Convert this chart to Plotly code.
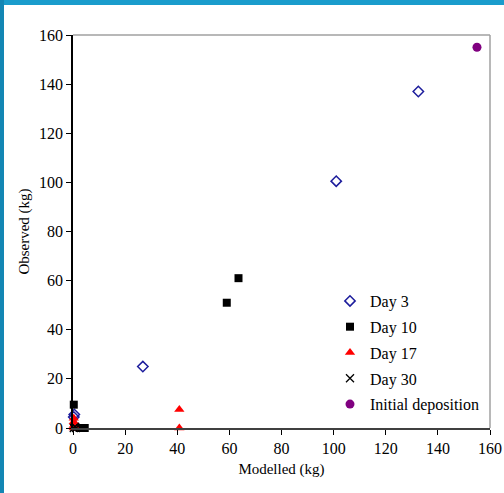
import plotly.graph_objects as go

day3_x = [26.8, 101, 132.5, 0.5, 0.3]
day3_y = [25, 100.5, 137, 5.5, 4.5]
day10_x = [59, 63.5, 0.3, 2.5, 4.5, 0.5]
day10_y = [51, 61, 9.5, 0, 0, 0.5]
day17_x = [40.8, 40.8, 0.3, 0.3, 0.3, 0.3]
day17_y = [7.5, 0, 4, 2.5, 1, 0]
day30_x = [0.3, 1.2, 0.8]
day30_y = [0, 0, 0.5]
init_x = [155]
init_y = [155]

x_ticks = [0, 20, 40, 60, 80, 100, 120, 140, 160]
y_ticks = [0, 20, 40, 60, 80, 100, 120, 140, 160]

W, H = 504, 493
L, R, T, B = 73, 14, 35, 65
pw, ph = W - L - R, H - T - B

def px2x(p):
    return (p - L) / pw

def py2y(p):
    return (H - B - p) / ph

font = "Liberation Serif"

fig = go.Figure()
fig.add_trace(go.Scatter(x=day3_x, y=day3_y, mode="markers", name="Day 3", legendgroup="a",
                         marker=dict(symbol="diamond-open", size=8, color="#1c1c9c",
                                     line=dict(width=1.5, color="#1c1c9c"))))
fig.add_trace(go.Scatter(x=day10_x, y=day10_y, mode="markers", name="Day 10", legendgroup="b",
                         marker=dict(symbol="square", size=8, color="black")))
fig.add_trace(go.Scatter(x=day17_x, y=day17_y, mode="markers", name="Day 17", legendgroup="c",
                         marker=dict(symbol="triangle-up", size=9, color="#ff0000")))
fig.add_trace(go.Scatter(x=day30_x, y=day30_y, mode="markers", name="Day 30", legendgroup="d",
                         marker=dict(symbol="x-thin-open", size=8, color="black",
                                     line=dict(width=1.3, color="black"))))
fig.add_trace(go.Scatter(x=init_x, y=init_y, mode="markers", name="Initial deposition", legendgroup="e",
                         marker=dict(symbol="circle", size=9, color="#800080")))

shapes = [
    dict(type="line", xref="paper", yref="paper", x0=0, x1=1, y0=1, y1=1,
         line=dict(color="#a0a0a0", width=1.5)),
    dict(type="line", xref="paper", yref="paper", x0=1, x1=1, y0=0, y1=1,
         line=dict(color="#a0a0a0", width=1.5)),
    dict(type="rect", xref="paper", yref="paper", x0=px2x(0), x1=px2x(W), y0=py2y(5), y1=py2y(0),
         fillcolor="#1a9ccc", line=dict(width=0), layer="above"),
    dict(type="rect", xref="paper", yref="paper", x0=px2x(0), x1=px2x(4), y0=py2y(H), y1=py2y(0),
         fillcolor="#1386b4", line=dict(width=0), layer="above"),
]

fig.update_layout(
    width=W, height=H,
    margin=dict(l=L, r=R, t=T, b=B, autoexpand=False),
    paper_bgcolor="white", plot_bgcolor="white",
    showlegend=True,
    legend=dict(x=px2x(330), y=py2y(284), xanchor="left", yanchor="top",
                bgcolor="rgba(0,0,0,0)", font=dict(family=font, size=16, color="#000000"),
                tracegroupgap=2, itemwidth=30),
    xaxis=dict(range=[0, 160], tickvals=x_ticks, ticks="outside", ticklen=5,
               showgrid=False, zeroline=False, showline=True, linecolor="#404040",
               linewidth=1.5, tickcolor="black", automargin=False,
               title=dict(text="Modelled (kg)", font=dict(family=font, size=15, color="#000000"), standoff=8),
               tickfont=dict(family=font, size=16, color="#000000")),
    yaxis=dict(range=[0, 160], tickvals=y_ticks, ticks="outside", ticklen=5,
               showgrid=False, zeroline=False, showline=True, linecolor="black",
               linewidth=1.5, tickcolor="black", automargin=False,
               title=dict(text="Observed (kg)", font=dict(family=font, size=15, color="#000000"), standoff=6),
               tickfont=dict(family=font, size=16, color="#000000")),
    shapes=shapes,
)
for tr in fig.data:
    tr.cliponaxis = False

fig.write_html("out.html", post_script="document.body.style.margin='0';",
               config={"displayModeBar": False})
